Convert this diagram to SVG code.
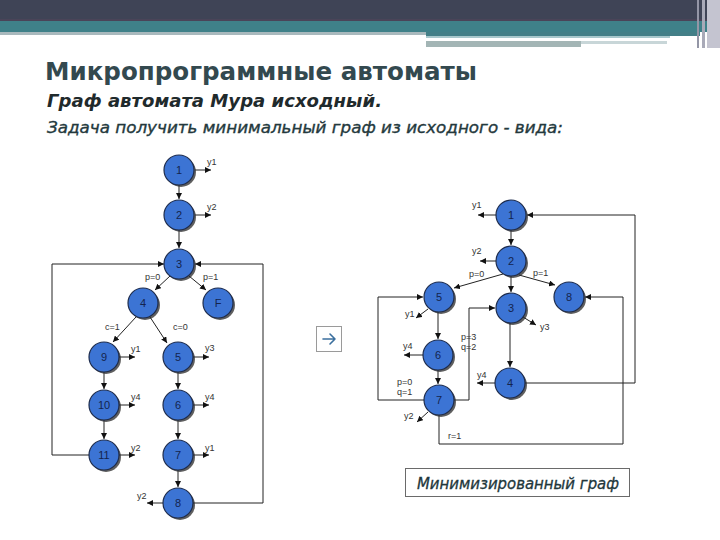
<svg xmlns="http://www.w3.org/2000/svg" width="720" height="540" viewBox="0 0 720 540">
<defs>
<marker id="ah" markerUnits="userSpaceOnUse" markerWidth="6" markerHeight="6" refX="6" refY="3" orient="auto"><path d="M0,0 L6,3 L0,6 z" fill="#111"/></marker>
<style>
.n circle.s{fill:#2a2a2a;opacity:0.75}
.n circle.c{fill:#3c74d4;stroke:#1e2c4c;stroke-width:1.2}
.n text{font-family:"Liberation Sans",Arial,sans-serif;font-size:11px;fill:#14244e;text-anchor:middle}
.e{fill:none;stroke:#222;stroke-width:1}
.a{marker-end:url(#ah)}
.l{font-family:"Liberation Sans",Arial,sans-serif;font-size:9px;fill:#333}
.t{font-family:"DejaVu Sans","Liberation Sans",sans-serif}
</style>
</defs>
<rect width="720" height="540" fill="#fff"/>
<g id="header">
<rect x="0" y="0" width="720" height="21" fill="#3f4456"/>
<rect x="0" y="19" width="720" height="2" fill="#4a4458"/>
<rect x="0" y="21" width="720" height="11" fill="#3f8189"/>
<rect x="0" y="32" width="426" height="3" fill="#a9b9bd"/>
<rect x="426" y="32" width="274" height="4" fill="#437f87"/>
<rect x="426" y="36" width="244" height="2" fill="#a8c8cc"/>
<rect x="426" y="38" width="241" height="3" fill="#ffffff"/>
<rect x="426" y="41" width="155" height="6" fill="#a3b5b5"/>
<rect x="581" y="41" width="86" height="3" fill="#c8d6d8"/>
<rect x="697" y="0" width="2" height="48" fill="#9496a6"/>
<rect x="702" y="0" width="3" height="48" fill="#a9aab8"/>
<rect x="707" y="0" width="13" height="48" fill="#c4c4d0"/>
</g>
<g id="titles">
<text class="t" x="45" y="80" font-size="25" font-weight="bold" fill="#33494f" textLength="432" lengthAdjust="spacingAndGlyphs">Микропрограммные автоматы</text>
<text class="t" x="47" y="107" font-size="18" font-weight="bold" font-style="italic" fill="#1f2a2c" textLength="335" lengthAdjust="spacingAndGlyphs">Граф автомата Мура исходный.</text>
<text class="t" x="47" y="133" font-size="15.5" font-style="italic" fill="#24393d" stroke="#24393d" stroke-width="0.35" textLength="516" lengthAdjust="spacingAndGlyphs">Задача получить  минимальный граф из исходного - вида:</text>
</g>
<g id="connectors">
<path class="e a" d="M179,185 V199"/>
<path class="e a" d="M179,230 V248"/>
<path class="e a" d="M89,455 H52 V264 H164"/>
<path class="e a" d="M193,503 H263 V264 H195"/>
<path class="e a" d="M170,276 L155,290"/>
<path class="e a" d="M189,276 L206,290"/>
<path class="e a" d="M136,317 L113,342"/>
<path class="e a" d="M150,317 L167,343"/>
<path class="e a" d="M104,372 V389"/>
<path class="e a" d="M104,420 V439"/>
<path class="e a" d="M178,372 V389"/>
<path class="e a" d="M178,420 V439"/>
<path class="e a" d="M178,470 V487"/>
<path class="e a" d="M195,170 H211"/>
<path class="e a" d="M195,215 H211"/>
<path class="e a" d="M119,357 H135"/>
<path class="e a" d="M119,405 H135"/>
<path class="e a" d="M119,455 H135"/>
<path class="e a" d="M193,357 H209"/>
<path class="e a" d="M193,405 H209"/>
<path class="e a" d="M193,455 H209"/>
<path class="e a" d="M163,503 H147"/>
<text class="l" x="207" y="165">y1</text>
<text class="l" x="207" y="210">y2</text>
<text class="l" x="145" y="280">p=0</text>
<text class="l" x="203" y="280">p=1</text>
<text class="l" x="105" y="330">c=1</text>
<text class="l" x="173" y="330">c=0</text>
<text class="l" x="131" y="352">y1</text>
<text class="l" x="205" y="351">y3</text>
<text class="l" x="131" y="400">y4</text>
<text class="l" x="205" y="400">y4</text>
<text class="l" x="131" y="451">y2</text>
<text class="l" x="205" y="451">y1</text>
<text class="l" x="137" y="499">y2</text>
<path class="e a" d="M525,383 H635 V215 H527"/>
<path class="e a" d="M439,415 V444 H623 V297 H585"/>
<path class="e a" d="M496,215 H478"/>
<path class="e a" d="M496,261 H480"/>
<path class="e a" d="M511,230 V245"/>
<path class="e a" d="M503,274 L454,288"/>
<path class="e a" d="M511,276 V292"/>
<path class="e a" d="M519,275 L555,285"/>
<path class="e a" d="M424,400 H378 V297 H423"/>
<path class="e a" d="M454,400 H469 V308 H495"/>
<path class="e a" d="M428,309 L416,318"/>
<path class="e a" d="M438,312 V339"/>
<path class="e a" d="M523,317 L536,325"/>
<path class="e a" d="M510,323 V367"/>
<path class="e a" d="M495,383 H477"/>
<path class="e a" d="M423,355 H404"/>
<path class="e a" d="M438,370 V384"/>
<path class="e a" d="M428,412 L417,422"/>
<text class="l" x="472" y="208">y1</text>
<text class="l" x="472" y="254">y2</text>
<text class="l" x="469" y="277">p=0</text>
<text class="l" x="533" y="276">p=1</text>
<text class="l" x="405" y="317">y1</text>
<text class="l" x="540" y="330">y3</text>
<text class="l" x="461" y="340" font-size="7.5">p=3</text>
<text class="l" x="461" y="350" font-size="7.5">q=2</text>
<text class="l" x="403" y="349">y4</text>
<text class="l" x="477" y="378">y4</text>
<text class="l" x="397" y="385" font-size="8">p=0</text>
<text class="l" x="397" y="395" font-size="8">q=1</text>
<text class="l" x="404" y="419">y2</text>
<text class="l" x="448" y="439">r=1</text>
</g>
<g id="L1" class="n"><circle class="s" cx="181" cy="172" r="15"/><circle class="c" cx="179" cy="170" r="15"/><text x="179" y="174">1</text></g>
<g id="L2" class="n"><circle class="s" cx="181" cy="217" r="15"/><circle class="c" cx="179" cy="215" r="15"/><text x="179" y="219">2</text></g>
<g id="L3" class="n"><circle class="s" cx="181" cy="266" r="15"/><circle class="c" cx="179" cy="264" r="15"/><text x="179" y="268">3</text></g>
<g id="L4" class="n"><circle class="s" cx="145" cy="305" r="15"/><circle class="c" cx="143" cy="303" r="15"/><text x="143" y="307">4</text></g>
<g id="LF" class="n"><circle class="s" cx="220" cy="305" r="15"/><circle class="c" cx="218" cy="303" r="15"/><text x="218" y="307">F</text></g>
<g id="L9" class="n"><circle class="s" cx="106" cy="359" r="15"/><circle class="c" cx="104" cy="357" r="15"/><text x="104" y="361">9</text></g>
<g id="L10" class="n"><circle class="s" cx="106" cy="407" r="15"/><circle class="c" cx="104" cy="405" r="15"/><text x="104" y="409">10</text></g>
<g id="L11" class="n"><circle class="s" cx="106" cy="457" r="15"/><circle class="c" cx="104" cy="455" r="15"/><text x="104" y="459">11</text></g>
<g id="L5" class="n"><circle class="s" cx="180" cy="359" r="15"/><circle class="c" cx="178" cy="357" r="15"/><text x="178" y="361">5</text></g>
<g id="L6" class="n"><circle class="s" cx="180" cy="407" r="15"/><circle class="c" cx="178" cy="405" r="15"/><text x="178" y="409">6</text></g>
<g id="L7" class="n"><circle class="s" cx="180" cy="457" r="15"/><circle class="c" cx="178" cy="455" r="15"/><text x="178" y="459">7</text></g>
<g id="L8" class="n"><circle class="s" cx="180" cy="505" r="15"/><circle class="c" cx="178" cy="503" r="15"/><text x="178" y="507">8</text></g>
<g id="R1" class="n"><circle class="s" cx="513" cy="217" r="15"/><circle class="c" cx="511" cy="215" r="15"/><text x="511" y="219">1</text></g>
<g id="R2" class="n"><circle class="s" cx="513" cy="263" r="15"/><circle class="c" cx="511" cy="261" r="15"/><text x="511" y="265">2</text></g>
<g id="R5" class="n"><circle class="s" cx="441" cy="299" r="15"/><circle class="c" cx="439" cy="297" r="15"/><text x="439" y="301">5</text></g>
<g id="R3" class="n"><circle class="s" cx="513" cy="310" r="15"/><circle class="c" cx="511" cy="308" r="15"/><text x="511" y="312">3</text></g>
<g id="R8" class="n"><circle class="s" cx="571" cy="299" r="15"/><circle class="c" cx="569" cy="297" r="15"/><text x="569" y="301">8</text></g>
<g id="R6" class="n"><circle class="s" cx="440" cy="357" r="15"/><circle class="c" cx="438" cy="355" r="15"/><text x="438" y="359">6</text></g>
<g id="R7" class="n"><circle class="s" cx="441" cy="402" r="15"/><circle class="c" cx="439" cy="400" r="15"/><text x="439" y="404">7</text></g>
<g id="R4" class="n"><circle class="s" cx="512" cy="385" r="15"/><circle class="c" cx="510" cy="383" r="15"/><text x="510" y="387">4</text></g>
<g id="arrowbox">
<rect x="316.5" y="326.5" width="25" height="25" fill="#fff" stroke="#9a9a9a" stroke-width="1"/>
<path d="M323,339 H335 M330,334 L335,339 L330,344" fill="none" stroke="#3b6f9e" stroke-width="1.6" stroke-linecap="round" stroke-linejoin="round"/>
</g>
<g id="caption">
<rect x="405.5" y="468.5" width="224" height="28" fill="#fff" stroke="#6a6a6a" stroke-width="1"/>
<text class="t" x="417" y="489" font-size="15" font-style="italic" fill="#22373b" stroke="#22373b" stroke-width="0.3" textLength="202" lengthAdjust="spacingAndGlyphs">Минимизированный граф</text>
</g>
</svg>
